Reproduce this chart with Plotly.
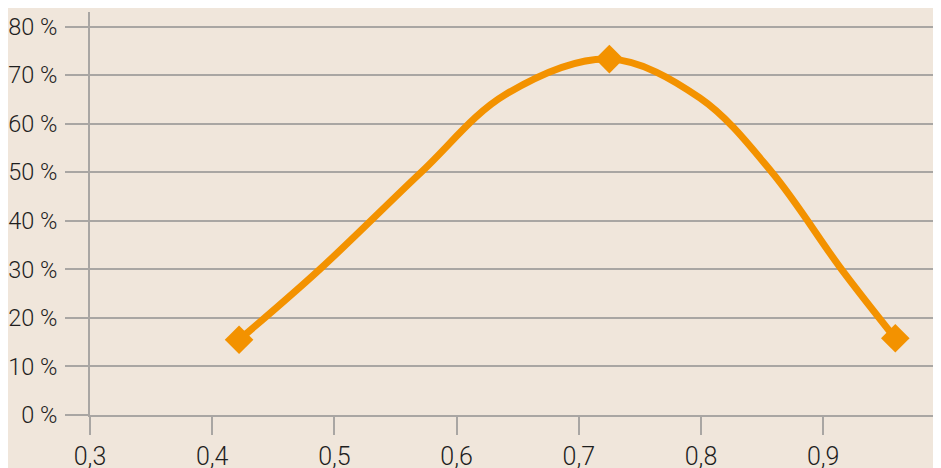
import plotly.graph_objects as go

# Marker points
x_vals = [0.422, 0.725, 0.959]
y_vals = [15.5, 73.3, 15.8]

# Curve points
curve_x = [0.422, 0.488, 0.571, 0.640, 0.725, 0.799, 0.858, 0.915, 0.959]
curve_y = [15.5, 30.0, 50.0, 66.0, 73.3, 65.3, 50.0, 30.0, 15.8]

x_ticks = [0.3, 0.4, 0.5, 0.6, 0.7, 0.8, 0.9, 1.0]
x_tick_labels = ["0,3", "0,4", "0,5", "0,6", "0,7", "0,8", "0,9", "1"]
y_ticks = [0, 10, 20, 30, 40, 50, 60, 70, 80]
y_tick_labels = [f"{v} %" for v in y_ticks]

bg = "#f0e6db"
grid = "#a9a6a3"
orange = "#f39200"
xfont = dict(family="Roboto", size=25, color="#1e1e1e", weight=300)
yfont = dict(family="Roboto", size=23.5, color="#1e1e1e", weight=300)

fig = go.Figure()
fig.add_trace(go.Scatter(
    x=curve_x, y=curve_y, mode="lines",
    line=dict(color=orange, width=7, shape="spline", smoothing=1.0),
    showlegend=False, hoverinfo="skip",
))
fig.add_trace(go.Scatter(
    x=x_vals, y=y_vals, mode="markers",
    marker=dict(symbol="diamond", size=22, color=orange),
    showlegend=False, hoverinfo="skip",
))

fig.update_layout(
    width=933, height=460,
    margin=dict(l=82, r=0, t=4, b=53, autoexpand=False),
    paper_bgcolor=bg, plot_bgcolor=bg,
    font=xfont,
    xaxis=dict(range=[0.3, 0.9964], tickvals=x_ticks, ticktext=x_tick_labels, automargin=False,
               showgrid=False, zeroline=False, showline=True, linecolor=grid, linewidth=2,
               ticks="outside", ticklen=18, tickwidth=2, tickcolor=grid, tickfont=xfont),
    yaxis=dict(range=[0, 83], tickvals=y_ticks, ticktext=y_tick_labels, automargin=False,
               showgrid=True, gridcolor=grid, gridwidth=1.5, zeroline=False,
               showline=True, linecolor=grid, linewidth=2,
               ticks="outside", ticklen=23, tickwidth=1.5, tickcolor=grid, tickfont=yfont,
               ticklabelstandoff=3),
)
fig.write_html("out.html")
